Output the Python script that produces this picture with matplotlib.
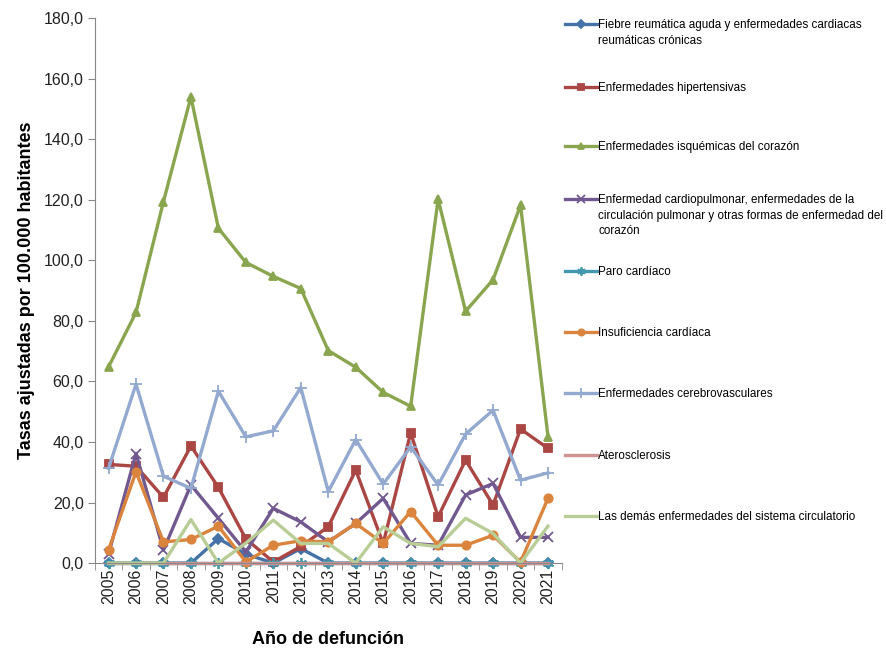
import numpy as np
import matplotlib

matplotlib.use("Agg")
import matplotlib.pyplot as plt
from matplotlib.ticker import FuncFormatter, FixedLocator

plt.rcParams["font.family"] = ["Liberation Sans", "DejaVu Sans"]

years = [str(y) for y in range(2005, 2022)]

fiebre_reumatica = [0, 0, 0, 0, 8.1, 3.0, 0, 4.8, 0, 0, 0, 0, 0, 0, 0, 0, 0]
hipertensivas = [32.6, 32.0, 21.7, 38.7, 25.0, 8.0, 0.4, 5.5, 12.0, 30.7, 6.5, 43.0, 15.3, 34.0, 19.2, 44.3, 37.9]
isquemicas = [64.8, 82.8, 119.4, 154.0, 110.6, 99.3, 94.7, 90.7, 70.2, 64.7, 56.4, 51.8, 120.2, 83.2, 93.6, 118.2, 41.8]
cardiopulmonar = [3.0, 36.2, 4.3, 25.8, 14.8, 3.7, 18.1, 13.6, 7.0, 13.1, 21.4, 6.5, 5.9, 22.5, 26.3, 8.5, 8.5]
paro_cardiaco = [0] * 17
insuficiencia = [4.3, 30.2, 7.0, 7.8, 12.2, 0.4, 5.9, 7.4, 7.0, 13.1, 6.5, 17.0, 5.9, 5.9, 9.2, 0.3, 21.4]
cerebrovasculares = [31.3, 59.1, 28.7, 24.7, 56.8, 41.7, 43.7, 58.0, 23.6, 40.8, 26.1, 38.4, 25.8, 42.6, 50.5, 27.4, 29.8]
aterosclerosis = [0] * 17
demas = [0, 0, 0, 14.4, 0, 6.6, 14.2, 6.5, 6.5, 0, 12.0, 6.5, 5.4, 14.8, 9.8, 0, 12.2]

labels = [
    "Fiebre reumática aguda y enfermedades cardiacas\nreumáticas crónicas",
    "Enfermedades hipertensivas",
    "Enfermedades isquémicas del corazón",
    "Enfermedad cardiopulmonar, enfermedades de la\ncirculación pulmonar y otras formas de enfermedad del\ncorazón",
    "Paro cardíaco",
    "Insuficiencia cardíaca",
    "Enfermedades cerebrovasculares",
    "Aterosclerosis",
    "Las demás enfermedades del sistema circulatorio",
]
values = [fiebre_reumatica, hipertensivas, isquemicas, cardiopulmonar, paro_cardiaco,
          insuficiencia, cerebrovasculares, aterosclerosis, demas]
colors = ["#4572A7", "#AA4643", "#89A54E", "#71588F", "#4198AF",
          "#DB843D", "#93A9CF", "#D19392", "#B9CD96"]
markers = ["D", "s", "^", "x", (6, 2, 0), "o", "+", None, None]
msizes = [5, 6, 6, 7, 8, 6, 9, 0, 0]

# legend rows (first line centre, pixels from top)
legend_y = [25, 88, 147, 200, 272, 333, 394, 456, 517]

W, H = 886, 648
fig = plt.figure(figsize=(W / 100, H / 100), dpi=100)
ax = fig.add_axes([0.107, 0.131, 0.527, 0.841])

x = np.arange(len(years))
handles = []
for lab, vals, c, m, ms in zip(labels, values, colors, markers, msizes):
    (h,) = ax.plot(x, vals, color=c, lw=2.4, marker=m, markersize=ms,
                   markeredgewidth=1.3, label=lab, clip_on=False)
    handles.append(h)

ax.set_xlim(-0.5, len(years) - 0.5)
ax.set_ylim(0, 180)
ax.set_yticks(np.arange(0, 181, 20))
ax.yaxis.set_major_formatter(FuncFormatter(lambda v, p: f"{v:.1f}".replace(".", ",")))
ax.set_xticks(x)
ax.set_xticklabels(years, rotation=90, fontsize=11.5)
ax.xaxis.set_minor_locator(FixedLocator(np.arange(-0.5, len(years), 1)))
ax.tick_params(axis="x", which="major", length=0, pad=4, labelcolor="#222222")
ax.tick_params(axis="x", which="minor", length=5, color="#888888")
ax.tick_params(axis="y", length=5, color="#888888", labelsize=11.5, pad=3, labelcolor="#222222")

for s in ["top", "right"]:
    ax.spines[s].set_visible(False)
for s in ["left", "bottom"]:
    ax.spines[s].set_color("#888888")

ax.set_ylabel("Tasas ajustadas por 100.000 habitantes", fontsize=13, fontweight="bold", labelpad=6)
ax.set_xlabel("Año de defunción", fontsize=13, fontweight="bold", labelpad=19)

# legend: one entry per row, marker aligned with the first text line
fs = 8.4
fs_px = fs * 100 / 72
hl, htp = 2.7, 0.15
x0 = 565
for h, lab, y in zip(handles, labels, legend_y):
    lines = lab.split("\n")
    fig.legend(handles=[h], labels=[lines[0]], loc="center left",
               bbox_to_anchor=(x0 / W, 1 - y / H), frameon=False, fontsize=fs,
               handlelength=hl, handletextpad=htp, borderpad=0, borderaxespad=0,
               markerscale=0.75)
    tx = x0 + (hl + htp) * fs_px
    for k, extra in enumerate(lines[1:], start=1):
        fig.text(tx / W, 1 - (y + 15.5 * k) / H, extra, fontsize=fs, va="center", ha="left")

plt.savefig("out.png", dpi=100)
plt.close()
